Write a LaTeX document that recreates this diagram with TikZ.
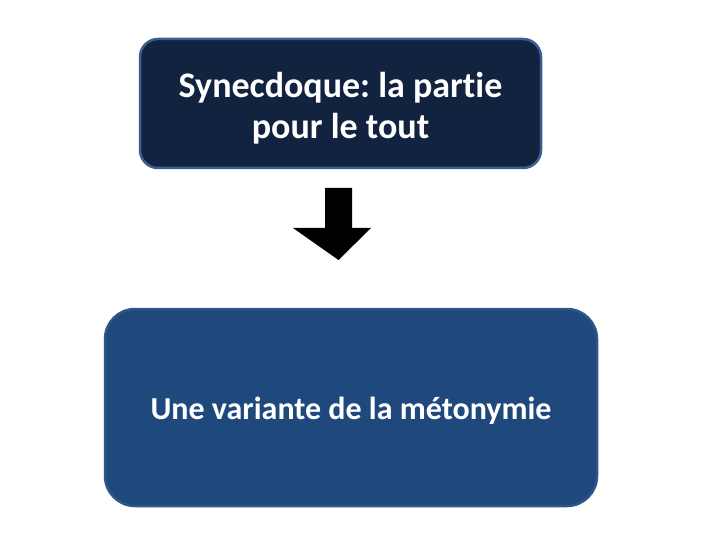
\documentclass[tikz,border=0pt]{standalone}
\usepackage{fontspec}
\setmainfont[Ligatures=NoCommon]{Carlito}
\frenchspacing
\usetikzlibrary{positioning}
\definecolor{topfill}{HTML}{12233F}
\definecolor{topline}{HTML}{3A5F8F}
\definecolor{lowfill}{HTML}{1F497D}
\definecolor{lowline}{HTML}{2F5688}
\tikzset{
	topbox/.style={draw=topline, line width=2.5pt, fill=topfill, rounded corners=18pt},
	lowbox/.style={draw=lowline, line width=2.5pt, fill=lowfill, rounded corners=30pt},
	boxtext/.style={text=white, align=center, font=\fontsize{#1}{41}\selectfont\bfseries}
}
\begin{document}
\begin{tikzpicture}[x=1pt, y=-1pt]
	\useasboundingbox (0, 0) rectangle (720, 540);
	
	\node[topbox, minimum width=401pt, minimum height=129pt] (syn) at (340.5, 103.5) {};
	\node[boxtext=36] (syntext) at ([yshift=-5pt]syn.center) {Synecdoque: la partie\\pour le tout};
	
	\node[lowbox, minimum width=492pt, minimum height=197pt] (var) at (351, 407.5) {};
	\node[boxtext=32] (vartext) at ([yshift=-3pt]var.center) {Une variante de la métonymie};
	
	\fill[black] (325, 188) -- (352, 188) -- (352, 228) -- (371, 228) -- (338.5, 260) -- (293, 228) -- (325, 228) -- cycle;
	
\end{tikzpicture}
\end{document}
